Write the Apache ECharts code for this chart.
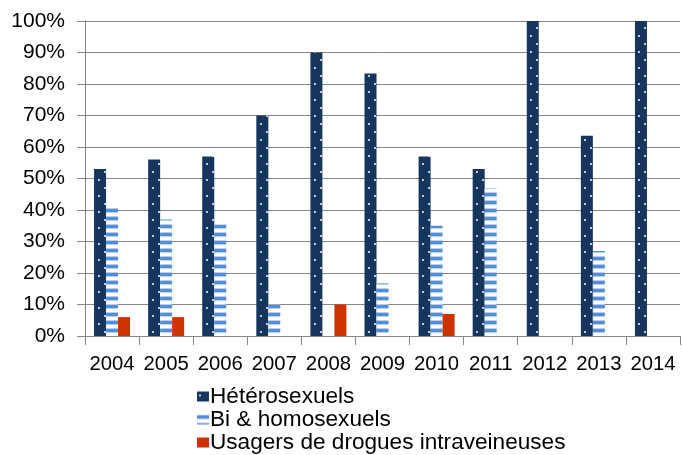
<!DOCTYPE html>
<html>
<head>
<meta charset="utf-8">
<script src="https://cdn.jsdelivr.net/npm/echarts@6/dist/echarts.min.js"></script>
<style>
html,body{margin:0;padding:0;background:#fff;}
#chart{width:682px;height:455px;}
</style>
</head>
<body>
<div id="chart"></div>
<script>
const categories = ['2004','2005','2006','2007','2008','2009','2010','2011','2012','2013','2014'];
const heteroValues = [53, 56, 57, 70, 90, 83.3, 57, 53, 100, 63.6, 100];
const biHomoValues = [41, 37, 35.5, 10, null, 16.7, 35, 47, null, 27, null];
const udiValues = [6, 6, null, null, 10, null, 7, null, null, null, null];
const seriesNames = ['Hétérosexuels', 'Bi & homosexuels', 'Usagers de drogues intraveineuses'];

function dotPattern() {
  const c = document.createElement('canvas');
  c.width = 12; c.height = 16;
  const g = c.getContext('2d');
  g.fillStyle = '#17365D';
  g.fillRect(0, 0, 12, 16);
  g.fillStyle = '#E8EEF6';
  g.beginPath(); g.arc(3, 4, 1.1, 0, Math.PI * 2); g.fill();
  g.beginPath(); g.arc(9, 12, 1.1, 0, Math.PI * 2); g.fill();
  return c;
}
function stripePattern() {
  const c = document.createElement('canvas');
  c.width = 8; c.height = 8;
  const g = c.getContext('2d');
  g.fillStyle = '#FFFFFF';
  g.fillRect(0, 0, 8, 8);
  g.fillStyle = '#B9D0EF';
  g.fillRect(0, 0, 8, 1);
  g.fillStyle = '#558ED5';
  g.fillRect(0, 1, 8, 3);
  g.fillStyle = '#B9D0EF';
  g.fillRect(0, 4, 8, 1);
  return c;
}

const chart = echarts.init(document.getElementById('chart'), null, {renderer: 'canvas'});
const font = 'Liberation Sans, Arial, sans-serif';
chart.setOption({
  animation: false,
  grid: {left: 85, right: 2, top: 21, bottom: 119, containLabel: false},
  legend: {
    orient: 'vertical',
    left: 197,
    top: 385,
    padding: 0,
    itemWidth: 12,
    itemHeight: 10,
    itemGap: 0,
    icon: 'rect',
    textStyle: {fontFamily: font, fontSize: 22.6, color: '#000', lineHeight: 23, padding: [0,0,0,-4]},
    data: seriesNames
  },
  xAxis: {
    type: 'category',
    data: categories,
    boundaryGap: true,
    axisLine: {lineStyle: {color: '#868686', width: 1}},
    axisTick: {show: true, length: 9, alignWithLabel: false, lineStyle: {color: '#868686'}},
    axisLabel: {fontFamily: font, fontSize: 20.3, color: '#000', margin: 18, interval: 0}
  },
  yAxis: {
    type: 'value',
    min: 0, max: 100, interval: 10,
    axisLine: {show: true, lineStyle: {color: '#868686', width: 1}},
    axisTick: {show: true, inside: false, length: 8, lineStyle: {color: '#868686'}},
    splitLine: {lineStyle: {color: '#868686', width: 1}},
    axisLabel: {fontFamily: font, fontSize: 21, color: '#000', margin: 20, formatter: '{value}%'}
  },
  series: [
    {name: seriesNames[0], type: 'bar', data: heteroValues, barWidth: 12, barGap: '0%',
     itemStyle: {color: {image: dotPattern(), repeat: 'repeat'}}},
    {name: seriesNames[1], type: 'bar', data: biHomoValues, barWidth: 12, barGap: '0%',
     itemStyle: {color: {image: stripePattern(), repeat: 'repeat'}}},
    {name: seriesNames[2], type: 'bar', data: udiValues, barWidth: 12, barGap: '0%',
     itemStyle: {color: '#CC3300'}}
  ]
});
</script>
</body>
</html>
